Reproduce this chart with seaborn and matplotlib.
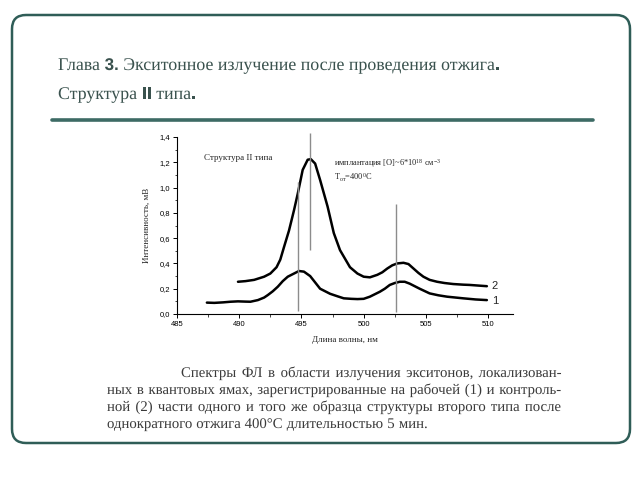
import matplotlib
matplotlib.use("Agg")
import matplotlib.pyplot as plt
import matplotlib.patheffects as pe
import numpy as np
import pandas as pd
import seaborn as sns
from matplotlib.patches import FancyBboxPatch
from matplotlib.lines import Line2D
from matplotlib.transforms import IdentityTransform
from matplotlib.ticker import MultipleLocator, FuncFormatter

# ---------------- data ----------------
wl_2 = [489.9, 490.5, 491.2, 492.0, 492.5, 493.0, 493.3, 493.6, 494.0, 494.4,
        494.7, 495.1, 495.5, 495.75, 496.1, 496.5, 497.1, 497.6, 498.1, 498.9,
        499.5, 500.0, 500.5, 501.1, 501.5, 501.9, 502.3, 502.7, 503.2, 503.6,
        504.0, 504.4, 504.8, 505.3, 505.9, 506.5, 507.2, 508.0, 508.5, 509.2, 509.9]
int_2 = [0.255, 0.26, 0.27, 0.295, 0.32, 0.37, 0.43, 0.53, 0.66, 0.82,
         0.95, 1.14, 1.22, 1.225, 1.19, 1.06, 0.85, 0.64, 0.505, 0.37,
         0.32, 0.295, 0.29, 0.31, 0.33, 0.36, 0.385, 0.40, 0.405, 0.395,
         0.36, 0.325, 0.295, 0.27, 0.255, 0.245, 0.237, 0.232, 0.23, 0.225, 0.22]

wl_1 = [487.4, 488.0, 488.7, 489.3, 489.9, 490.5, 490.9, 491.5, 492.0, 492.3,
        492.7, 493.1, 493.5, 493.9, 494.4, 494.8, 495.2, 495.7, 496.1, 496.5,
        497.3, 497.9, 498.4, 499.0, 499.5, 500.0, 500.5, 501.3, 501.7, 502.1,
        502.5, 502.9, 503.3, 503.7, 504.1, 504.5, 505.3, 506.0, 506.7, 507.4,
        508.0, 509.0, 509.9]
int_1 = [0.09, 0.088, 0.092, 0.097, 0.10, 0.098, 0.097, 0.11, 0.13, 0.15,
         0.18, 0.216, 0.26, 0.295, 0.32, 0.34, 0.335, 0.30, 0.25, 0.20,
         0.16, 0.14, 0.124, 0.12, 0.118, 0.12, 0.137, 0.176, 0.20, 0.23,
         0.245, 0.255, 0.255, 0.24, 0.22, 0.20, 0.163, 0.148, 0.137, 0.13,
         0.124, 0.115, 0.11]

marker_x = [494.73, 495.67, 502.6]
marker_lo = [0.026, 0.51, 0.013]
marker_hi = [1.045, 1.43, 0.874]

x_ticks = [485, 490, 495, 500, 505, 510]
y_ticks = [0.0, 0.2, 0.4, 0.6, 0.8, 1.0, 1.2, 1.4]

curve_labels = ["1", "2"]

title_line1 = [("Глава", "serif"), (" ", None), ("3.", "bold"), (" ", None),
               ("Экситонное излучение после проведения отжига", "serif"), (".", "bold")]
title_line2 = [("Структура", "serif"), (" ", None), ("II", "bold"), (" ", None),
               ("типа", "serif"), (".", "bold")]

caption_lines = [
    "Спектры ФЛ в области излучения экситонов, локализован-",
    "ных в квантовых ямах, зарегистрированные на рабочей (1) и контроль-",
    "ной (2) части одного и того же образца структуры второго типа после",
    "однократного отжига 400°C длительностью 5 мин.",
]

# ---------------- style ----------------
sns.set_theme(style="ticks")
plt.rcParams['font.family'] = ['Liberation Serif', 'DejaVu Serif']
plt.rcParams['mathtext.fontset'] = 'custom'
plt.rcParams['mathtext.rm'] = 'Liberation Serif'
plt.rcParams['mathtext.it'] = 'Liberation Serif:italic'

W, H = 640, 480
fig = plt.figure(figsize=(6.4, 4.8), dpi=100)
fig.patch.set_facecolor('white')
renderer = fig.canvas.get_renderer()
ID = IdentityTransform()
PATH = [pe.Normal()]   # draw glyphs as paths -> exact common baseline

# rounded frame
frame = FancyBboxPatch((12, H - 443), 618, 428,
                       boxstyle="round,pad=0,rounding_size=14",
                       transform=ID, fill=False, ec='#2f5d57', lw=1.8)
fig.add_artist(frame)

# separator
fig.add_artist(Line2D([52, 593], [H - 120, H - 120], transform=ID,
                      color='#3d6b65', lw=2.6))

TITLE_C = '#3a524e'
SERIF = ['Liberation Serif', 'DejaVu Serif']


def text_w(s, **kw):
    t = fig.text(0, 0, s, transform=ID, **kw)
    w = t.get_window_extent(renderer).width
    t.remove()
    return w


def space_w(**kw):
    return text_w("x x", **kw) - text_w("xx", **kw)


def draw_title(runs, x, y, size):
    serif_kw = dict(family=SERIF, fontsize=size)
    bold_kw = dict(family='Liberation Sans', fontweight='bold', fontsize=size * 0.95)
    for s, kind in runs:
        if kind is None:
            x += space_w(**serif_kw)
            continue
        kw = serif_kw if kind == "serif" else bold_kw
        t = fig.text(x, y, s, transform=ID, va='baseline', color=TITLE_C,
                     path_effects=PATH, **kw)
        x += t.get_window_extent(renderer).width


def runs_width(runs, size):
    serif_kw = dict(family=SERIF, fontsize=size)
    bold_kw = dict(family='Liberation Sans', fontweight='bold', fontsize=size * 0.95)
    w = 0
    for s, kind in runs:
        if kind is None:
            w += space_w(**serif_kw)
        else:
            w += text_w(s, **(serif_kw if kind == "serif" else bold_kw))
    return w


tsize = 14 * 442 / runs_width(title_line1, 14)
draw_title(title_line1, 58, H - 70, tsize)
draw_title(title_line2, 58, H - 99, tsize)

# caption (justified, word by word)
CAP_C = '#3a3a3a'
cap_y = [377, 394, 411, 428]
cap_x0 = [181, 107, 107, 107]
cap_x1 = 561
csize = min(10 * (cap_x1 - cap_x0[i] - 6) / text_w(caption_lines[i], family=SERIF, fontsize=10)
            for i in range(3))
cap_kw = dict(family=SERIF, fontsize=csize, color=CAP_C)
sp = space_w(**cap_kw)
for i, line in enumerate(caption_lines):
    words = line.split(" ")
    widths = [text_w(w, **cap_kw) for w in words]
    if i < len(caption_lines) - 1:
        gap = (cap_x1 - cap_x0[i] - sum(widths)) / (len(words) - 1)
    else:
        gap = sp * 1.1
    x = cap_x0[i]
    for w, ww in zip(words, widths):
        fig.text(x, H - cap_y[i], w, transform=ID, va='baseline',
                 path_effects=PATH, **cap_kw)
        x += ww + gap

# ---------------- chart ----------------
ax = fig.add_axes([177 / W, 1 - 314 / H, (513 - 177) / W, (314 - 137) / H])
ax.set_facecolor('white')

df = pd.concat([
    pd.DataFrame({"wl": wl_1, "I": int_1, "curve": "1"}),
    pd.DataFrame({"wl": wl_2, "I": int_2, "curve": "2"}),
])
sns.lineplot(data=df, x="wl", y="I", units="curve", estimator=None, sort=False,
             color='black', lw=1.8, ax=ax)

ax.vlines(marker_x, marker_lo, marker_hi, color='#8c8c8c', lw=1.0, clip_on=False, zorder=3)

ax.set_xlim(485, 512)
ax.set_ylim(0, 1.4)
ax.set_xticks(x_ticks)
ax.set_yticks(y_ticks)
ax.xaxis.set_minor_locator(MultipleLocator(2.5))
ax.yaxis.set_minor_locator(MultipleLocator(0.1))
ax.yaxis.set_major_formatter(FuncFormatter(lambda v, p: f"{v:.1f}".replace('.', ',')))
ax.tick_params(which='major', direction='out', length=3, width=0.7, labelsize=5.5,
               pad=2, colors='black')
ax.tick_params(which='minor', direction='out', length=1.8, width=0.6)
for lab in ax.get_xticklabels() + ax.get_yticklabels():
    lab.set_family('Liberation Sans')
sns.despine(ax=ax)
for s in ['left', 'bottom']:
    ax.spines[s].set_linewidth(0.8)
    ax.spines[s].set_color('black')

ax.set_xlabel("Длина волны, нм", fontsize=6.5, labelpad=6)
ax.set_ylabel("Интенсивность, мВ", fontsize=6.5, labelpad=6)

ax.text(487.2, 1.23, "Структура II типа", fontsize=6.5, va='center')
ax.text(497.6, 1.19, "имплантация [O]~6*10$^{18}$ см$^{-3}$", fontsize=6, va='center')
ax.text(497.6, 1.08, "T$_{\\mathrm{от}}$=400$^{0}$C", fontsize=6, va='center')

ax.text(510.3, 0.22, curve_labels[1], fontsize=8, family='Liberation Sans', va='center')
ax.text(510.3, 0.10, curve_labels[0], fontsize=8, family='Liberation Sans', va='center')

fig.savefig("out.png", dpi=100, facecolor='white')
